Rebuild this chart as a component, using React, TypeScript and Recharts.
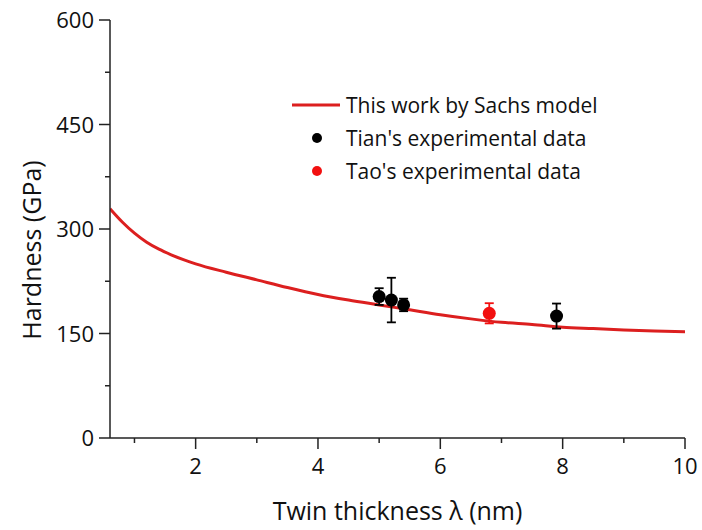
import { ComposedChart, Line, Scatter, ErrorBar, XAxis, YAxis, Legend } from "recharts";

const FONT = "'Open Sans', 'Noto Sans', sans-serif";
const LINE_RED = "#dc1f1f";
const DOT_RED = "#f21010";

// Sachs model curve: twin thickness (nm) vs hardness (GPa)
const sachsX = [0.6, 0.8, 1.0, 1.2, 1.4, 1.6, 1.8, 2.0, 2.5, 3.0, 3.5, 4.0, 4.5, 5.0, 5.5, 6.0, 6.5, 7.0, 7.5, 8.0, 8.5, 9.0, 9.5, 10];
const sachsH = [329, 310, 294, 281, 271, 263, 256, 250, 238, 227, 216, 206, 198, 191, 184, 177, 171, 166, 163, 159, 157, 155, 153.5, 152.5];

// Tian's experimental data
const tianX = [5.0, 5.2, 5.4, 7.9];
const tianH = [203, 198, 191, 175];
const tianErr = [12, 32, 9, 18];

// Tao's experimental data
const taoX = [6.8];
const taoH = [179];
const taoErr = [14.5];

const xTicks = [1, 2, 3, 4, 5, 6, 7, 8, 9, 10];
const yTicks = [0, 75, 150, 225, 300, 375, 450, 525, 600];

const sachs = sachsX.map((x, i) => ({ x, h: sachsH[i] }));
const tian = tianX.map((x, i) => ({ x, h: tianH[i], err: tianErr[i] }));
const tao = taoX.map((x, i) => ({ x, h: taoH[i], err: taoErr[i] }));

function XTick({ x, y, payload }: any) {
  const major = payload.value % 2 === 0;
  return (
    <g>
      <line x1={x} x2={x} y1={y} y2={y + (major ? 11 : 5)} stroke="#222" strokeWidth={1.5} />
      {major && (
        <text x={x} y={y + 36} textAnchor="middle" fontSize={22} fontFamily={FONT} fill="#111">
          {payload.value}
        </text>
      )}
    </g>
  );
}

function YTick({ x, y, payload }: any) {
  const major = payload.value % 150 === 0;
  return (
    <g>
      <line x1={x - (major ? 11 : 5)} x2={x} y1={y} y2={y} stroke="#222" strokeWidth={1.5} />
      {major && (
        <text x={x - 16} y={y + 8} textAnchor="end" fontSize={22} fontFamily={FONT} fill="#111">
          {payload.value}
        </text>
      )}
    </g>
  );
}

// rotated y title, sitting a little below the plot's middle
function YTitle({ viewBox }: any) {
  const cx = 31;
  const cy = viewBox.y + viewBox.height / 2 + 21;
  return (
    <text
      x={cx}
      y={cy}
      transform={`rotate(-90, ${cx}, ${cy})`}
      textAnchor="middle"
      dominantBaseline="central"
      fontSize={25}
      fontFamily={FONT}
      fill="#111"
    >
      Hardness (GPa)
    </text>
  );
}

function LegendBox() {
  const row = { display: "flex", alignItems: "center", height: 33 } as const;
  const label = { fontSize: 21, fontFamily: FONT, color: "#111", marginLeft: 6 } as const;
  return (
    <div>
      <div style={row}>
        <svg width={48} height={10}>
          <line x1={0} x2={48} y1={5} y2={5} stroke={LINE_RED} strokeWidth={3} />
        </svg>
        <span style={label}>This work by Sachs model</span>
      </div>
      <div style={row}>
        <svg width={48} height={12}>
          <circle cx={25} cy={6} r={5} fill="#000" />
        </svg>
        <span style={label}>Tian's experimental data</span>
      </div>
      <div style={row}>
        <svg width={48} height={12}>
          <circle cx={25} cy={6} r={5} fill={DOT_RED} />
        </svg>
        <span style={label}>Tao's experimental data</span>
      </div>
    </div>
  );
}

export default function App() {
  return (
    <div style={{ position: "absolute", left: 0, top: 0, background: "#fff" }}>
      <ComposedChart width={702} height={530} margin={{ top: 20, right: 17, left: 0, bottom: 0 }}>
        <XAxis
          xAxisId="b"
          type="number"
          dataKey="x"
          domain={[0.6, 10]}
          ticks={xTicks}
          interval={0}
          allowDataOverflow
          height={92}
          tickSize={0}
          tickMargin={0}
          tickLine={false}
          tick={<XTick />}
          axisLine={{ stroke: "#222", strokeWidth: 1.5 }}
          label={{ value: "Twin thickness λ (nm)", position: "insideBottom", offset: 10, fontSize: 25, fontFamily: FONT, fill: "#111" }}
        />
        <XAxis xAxisId="t" orientation="top" type="number" domain={[0.6, 10]} height={0} tick={false} tickLine={false} axisLine={{ stroke: "#222", strokeWidth: 1.5 }} />
        <YAxis
          yAxisId="l"
          type="number"
          domain={[0, 600]}
          ticks={yTicks}
          interval={0}
          width={110}
          tickSize={0}
          tickMargin={0}
          tickLine={false}
          tick={<YTick />}
          axisLine={{ stroke: "#222", strokeWidth: 1.5 }}
          label={<YTitle />}
        />
        <YAxis yAxisId="r" orientation="right" type="number" domain={[0, 600]} width={0} tick={false} tickLine={false} axisLine={{ stroke: "#222", strokeWidth: 1.5 }} />
        <Legend
          content={<LegendBox />}
          layout="vertical"
          align="center"
          verticalAlign="middle"
          wrapperStyle={{ top: 88, left: 292, width: 360 }}
        />
        <Line
          xAxisId="b"
          yAxisId="l"
          data={sachs}
          dataKey="h"
          type="monotone"
          stroke={LINE_RED}
          strokeWidth={3}
          dot={false}
          isAnimationActive={false}
          legendType="none"
        />
        <Scatter xAxisId="b" yAxisId="l" data={tian} dataKey="h" fill="#000" shape={(p: any) => <circle cx={p.cx} cy={p.cy} r={6.5} fill="#000" />} isAnimationActive={false}>
          <ErrorBar dataKey="err" direction="y" width={4.5} stroke="#000" strokeWidth={1.8} />
        </Scatter>
        <Scatter xAxisId="b" yAxisId="l" data={tao} dataKey="h" fill={DOT_RED} shape={(p: any) => <circle cx={p.cx} cy={p.cy} r={6.5} fill={DOT_RED} />} isAnimationActive={false}>
          <ErrorBar dataKey="err" direction="y" width={4.5} stroke={DOT_RED} strokeWidth={1.8} />
        </Scatter>
      </ComposedChart>
    </div>
  );
}
